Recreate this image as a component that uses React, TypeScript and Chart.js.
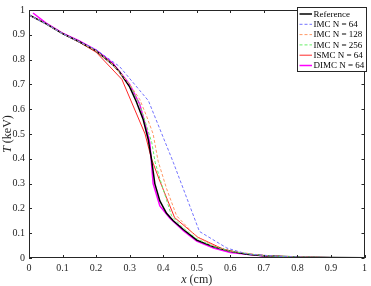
import React, { useEffect, useRef } from "react";
import { Chart, registerables } from "chart.js";

Chart.register(...registerables);

// ---- data ----
const refX = [0, 0.05, 0.1, 0.15, 0.2, 0.25, 0.27, 0.3, 0.32, 0.34, 0.355, 0.365, 0.375, 0.39, 0.41, 0.43, 0.46, 0.5, 0.55, 0.6, 0.65, 0.7, 0.8, 0.9, 1];
const refT = [0.98, 0.945, 0.905, 0.872, 0.835, 0.78, 0.75, 0.69, 0.63, 0.56, 0.48, 0.4, 0.3, 0.23, 0.18, 0.15, 0.115, 0.072, 0.045, 0.027, 0.015, 0.009, 0.004, 0.002, 0.001];

const imc64X = [0, 0.05, 0.1, 0.15, 0.2, 0.27, 0.356, 0.43, 0.508, 0.59, 0.65, 0.75, 0.85, 1];
const imc64T = [0.98, 0.945, 0.905, 0.872, 0.84, 0.772, 0.634, 0.386, 0.107, 0.04, 0.016, 0.006, 0.002, 0.001];

const imc128X = [0, 0.05, 0.1, 0.15, 0.2, 0.25, 0.3, 0.33, 0.351, 0.37, 0.385, 0.41, 0.44, 0.5, 0.55, 0.6, 0.7, 0.8, 0.9, 1];
const imc128T = [0.98, 0.945, 0.905, 0.872, 0.835, 0.78, 0.7, 0.64, 0.57, 0.5, 0.39, 0.28, 0.17, 0.085, 0.05, 0.028, 0.01, 0.004, 0.002, 0.001];

const imc256X = [0, 0.05, 0.1, 0.15, 0.2, 0.25, 0.3, 0.33, 0.351, 0.366, 0.376, 0.39, 0.425, 0.46, 0.5, 0.55, 0.6, 0.7, 0.8, 0.9, 1];
const imc256T = [0.98, 0.945, 0.905, 0.872, 0.835, 0.78, 0.7, 0.62, 0.53, 0.465, 0.386, 0.32, 0.17, 0.12, 0.078, 0.046, 0.027, 0.009, 0.004, 0.002, 0.001];

const ismcX = [0, 0.05, 0.1, 0.15, 0.2, 0.277, 0.346, 0.365, 0.39, 0.434, 0.503, 0.58, 0.65, 0.75, 0.85, 1];
const ismcT = [0.98, 0.945, 0.905, 0.87, 0.83, 0.72, 0.5, 0.4, 0.31, 0.163, 0.084, 0.035, 0.015, 0.006, 0.002, 0.001];

const dimcX = [0.012, 0.05, 0.1, 0.15, 0.2, 0.25, 0.3, 0.33, 0.35, 0.36, 0.37, 0.39, 0.42, 0.46, 0.5, 0.55, 0.6, 0.7, 0.8, 0.9, 1];
const dimcT = [0.988, 0.948, 0.907, 0.875, 0.838, 0.785, 0.7, 0.62, 0.52, 0.465, 0.3, 0.21, 0.16, 0.11, 0.068, 0.04, 0.022, 0.008, 0.003, 0.001, 0.0];

const labels = ["Reference", "IMC N = 64", "IMC N = 128", "IMC N = 256", "ISMC N = 64", "DIMC N = 64"];
const tickValues = [0, 0.1, 0.2, 0.3, 0.4, 0.5, 0.6, 0.7, 0.8, 0.9, 1];

const SERIF = "'Liberation Serif', 'DejaVu Serif', serif";

const pts = (xs: number[], ys: number[]) => xs.map((x, i) => ({ x, y: ys[i] }));

const framePlugin = {
  id: "frame",
  afterDatasetsDraw(chart: any) {
    const { ctx, chartArea: a, scales } = chart;
    const xs = scales.x;
    const ys = scales.y;
    ctx.save();
    // box
    ctx.strokeStyle = "#262626";
    ctx.lineWidth = 1;
    ctx.strokeRect(Math.round(a.left) + 0.5, Math.round(a.top) + 0.5, Math.round(a.right - a.left) - 1, Math.round(a.bottom - a.top) - 1);
    // ticks inward
    const tl = 3;
    ctx.beginPath();
    tickValues.forEach((v) => {
      const px = Math.round(xs.getPixelForValue(v)) + 0.5;
      ctx.moveTo(px, a.bottom);
      ctx.lineTo(px, a.bottom - tl);
      ctx.moveTo(px, a.top);
      ctx.lineTo(px, a.top + tl);
      const py = Math.round(ys.getPixelForValue(v)) + 0.5;
      ctx.moveTo(a.left, py);
      ctx.lineTo(a.left + tl, py);
      ctx.moveTo(a.right, py);
      ctx.lineTo(a.right - tl, py);
    });
    ctx.stroke();

    // legend (in label order)
    const lx = 297.5, ly = 7.5, lw = 69, lh = 64;
    ctx.fillStyle = "#ffffff";
    ctx.fillRect(lx, ly, lw, lh);
    ctx.strokeStyle = "#262626";
    ctx.lineWidth = 1;
    ctx.strokeRect(lx, ly, lw, lh);
    ctx.font = `9px ${SERIF}`;
    ctx.textBaseline = "middle";
    ctx.textAlign = "left";
    labels.forEach((lab, i) => {
      const ds = chart.data.datasets.find((d: any) => d.label === lab);
      const yy = 14 + i * 10.3;
      ctx.beginPath();
      ctx.strokeStyle = ds.borderColor;
      ctx.lineWidth = ds.borderWidth;
      ctx.setLineDash(ds.borderDash || []);
      ctx.moveTo(299.5, yy);
      ctx.lineTo(312, yy);
      ctx.stroke();
      ctx.setLineDash([]);
      ctx.fillStyle = "#000000";
      ctx.fillText(lab, 313.5, yy + 0.5);
    });

    // axis titles
    ctx.fillStyle = "#262626";
    ctx.textBaseline = "middle";
    const drawMixed = (parts: [string, boolean][], cx: number, cy: number) => {
      let total = 0;
      parts.forEach(([t, it]) => {
        ctx.font = `${it ? "italic " : ""}12px ${SERIF}`;
        total += ctx.measureText(t).width;
      });
      let x = cx - total / 2;
      ctx.textAlign = "left";
      parts.forEach(([t, it]) => {
        ctx.font = `${it ? "italic " : ""}12px ${SERIF}`;
        ctx.fillText(t, x, cy);
        x += ctx.measureText(t).width;
      });
    };
    drawMixed([["x", true], [" (cm)", false]], (a.left + a.right) / 2, 280);
    ctx.save();
    ctx.translate(8, (a.top + a.bottom) / 2);
    ctx.rotate(-Math.PI / 2);
    drawMixed([["T", true], [" (keV)", false]], 0, 0);
    ctx.restore();
    ctx.restore();
  },
};

export default function App() {
  const ref = useRef<HTMLCanvasElement | null>(null);
  useEffect(() => {
    document.body.style.margin = "0";
    const canvas = ref.current!;
    const mk = (label: string, data: any[], color: string, width: number, dash?: number[]) => ({
      label,
      data,
      borderColor: color,
      backgroundColor: color,
      borderWidth: width,
      borderDash: dash,
      pointRadius: 0,
      tension: 0,
      fill: false,
    });
    const chart = new Chart(canvas, {
      type: "line",
      data: {
        datasets: [
          mk(labels[1], pts(imc64X, imc64T), "#7373ff", 1, [3, 2]),
          mk(labels[2], pts(imc128X, imc128T), "#ff9966", 1, [3, 2]),
          mk(labels[3], pts(imc256X, imc256T), "#66ee66", 1, [3, 2]),
          mk(labels[0], pts(refX, refT), "#000000", 1.5),
          mk(labels[4], pts(ismcX, ismcT), "#ff2a2a", 1),
          mk(labels[5], pts(dimcX, dimcT), "#ff00ff", 1.5),
        ] as any,
      },
      options: {
        animation: false,
        responsive: false,
        maintainAspectRatio: false,
        layout: { padding: { top: 4, right: 2.5, left: 0, bottom: 0 } },
        plugins: { legend: { display: false }, tooltip: { enabled: false } },
        scales: {
          x: {
            type: "linear",
            min: 0,
            max: 1,
            grid: { display: false, drawTicks: false },
            border: { display: false },
            afterFit: (s: any) => { s.height = 28; },
            afterBuildTicks: (s: any) => { s.ticks = tickValues.map((v) => ({ value: v })); },
            ticks: {
              padding: 4,
              maxRotation: 0,
              autoSkip: false,
              color: "#262626",
              font: { family: SERIF, size: 10 },
              callback: (v: any) => String(Number(Number(v).toFixed(1))),
            },
          },
          y: {
            type: "linear",
            min: 0,
            max: 1,
            grid: { display: false, drawTicks: false },
            border: { display: false },
            afterFit: (s: any) => { s.width = 29; },
            afterBuildTicks: (s: any) => { s.ticks = tickValues.map((v) => ({ value: v })); },
            ticks: {
              padding: 4,
              autoSkip: false,
              color: "#262626",
              font: { family: SERIF, size: 10 },
              callback: (v: any) => String(Number(Number(v).toFixed(1))),
            },
          },
        },
      },
      plugins: [framePlugin],
    });
    return () => chart.destroy();
  }, []);
  return <canvas ref={ref} width={371} height={286} style={{ display: "block", width: 371, height: 286 }} />;
}
